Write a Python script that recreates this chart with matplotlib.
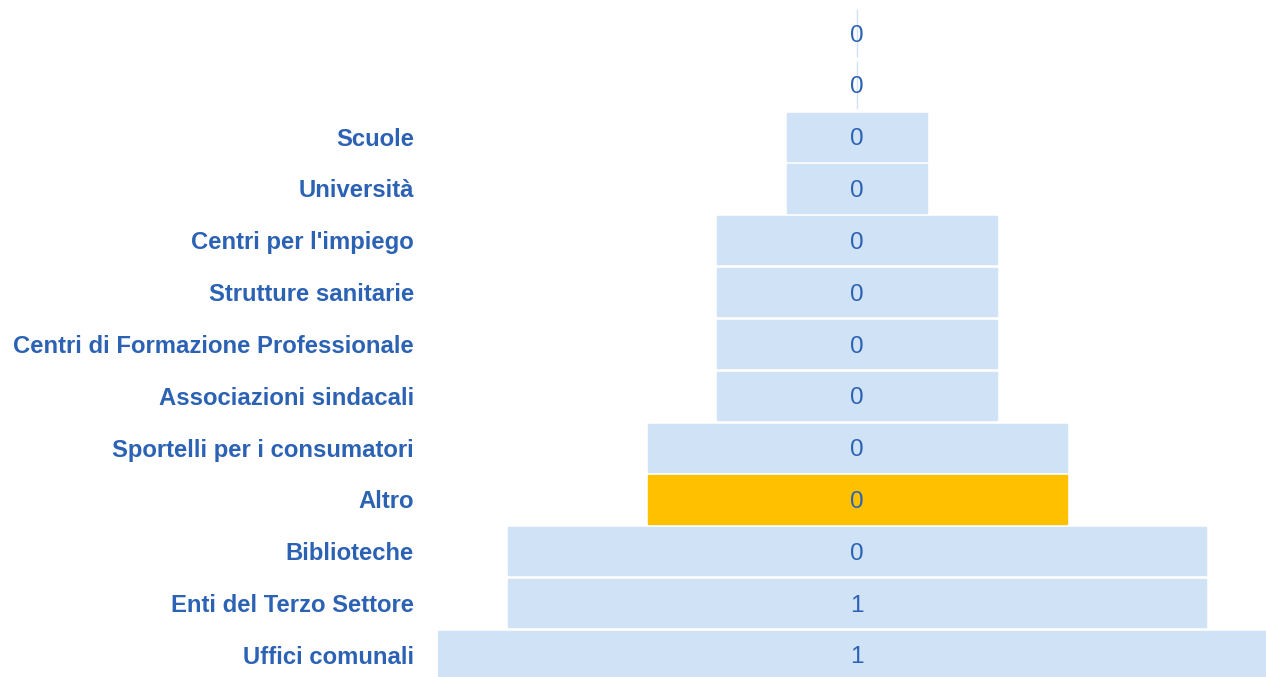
import matplotlib.pyplot as plt
import numpy as np

plt.rcParams['font.family'] = ['Liberation Sans', 'DejaVu Sans']

# funnel rows, top to bottom
categories = ["", "", "Scuole", "Università", "Centri per l'impiego", "Strutture sanitarie",
              "Centri di Formazione Professionale", "Associazioni sindacali",
              "Sportelli per i consumatori", "Altro", "Biblioteche",
              "Enti del Terzo Settore", "Uffici comunali"]
values = [0, 0, 1, 1, 2, 2, 2, 2, 3, 3, 5, 5, 6]
value_labels = ["0", "0", "0", "0", "0", "0", "0", "0", "0", "0", "0", "1", "1"]
highlight = "Altro"

bar_col = "#cfe2f6"
hi_col = "#ffc000"
txt_col = "#2c62b4"

fig = plt.figure(figsize=(12.66, 6.77), dpi=100)
# axes runs a little past the right edge, like the original crop
ax = fig.add_axes([438/1266, 0, 838/1266, 1])

n = len(categories)
y = np.arange(n)
vals = np.array(values, dtype=float)
cols = [hi_col if c == highlight else bar_col for c in categories]
ax.barh(y, vals, left=-vals/2, height=0.93, color=cols, edgecolor=cols, linewidth=1.0)

for i in range(n):
    ax.text(0, y[i], value_labels[i], ha='center', va='center_baseline', fontsize=17.5, color=txt_col)
    if categories[i]:
        fig.text(414/1266, 1 - (33 + i*51.83)/677, categories[i], ha='right', va='center_baseline',
                 fontsize=17.2, fontweight='bold', color=txt_col)

vmax = max(values)
ax.set_xlim(-vmax/2, vmax/2)
# row centres 33px .. 655px in a 677px tall picture
ax.set_ylim(n - 1 + (677 - 655)/51.83, -33/51.83)
ax.axis('off')

fig.savefig("out.png", dpi=100)
